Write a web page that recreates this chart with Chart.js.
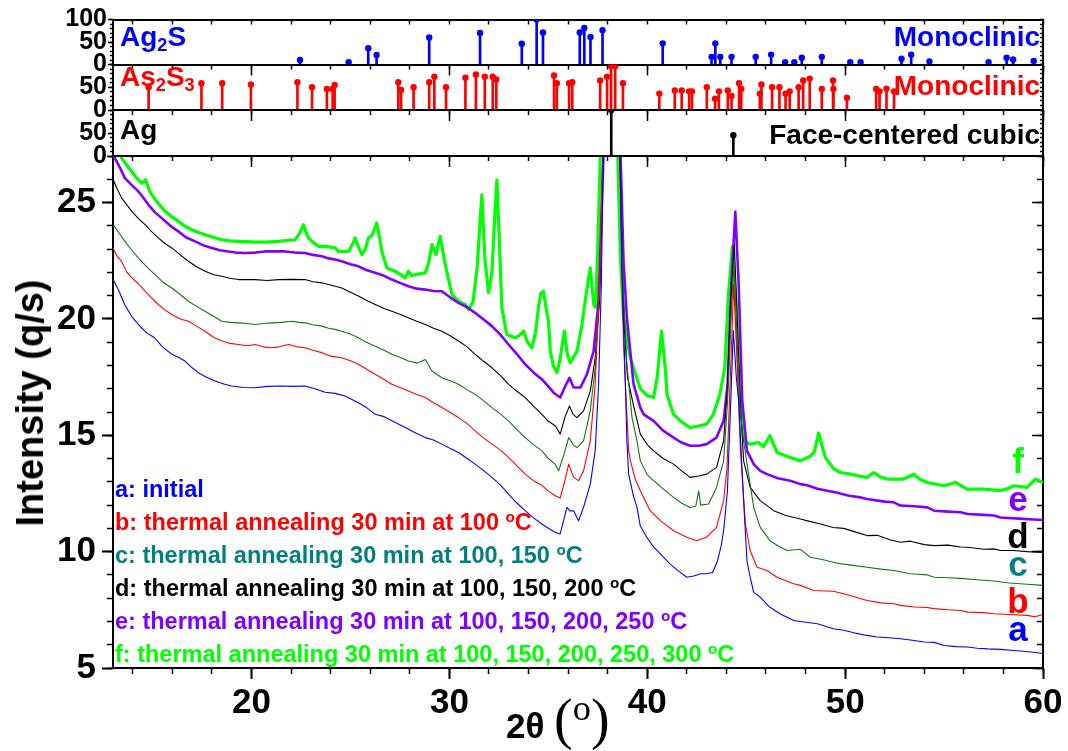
<!DOCTYPE html>
<html>
<head>
<meta charset="utf-8">
<script src="https://cdn.jsdelivr.net/npm/chart.js@4.4.1/dist/chart.umd.min.js"></script>
<style>
  body { margin: 0; background: #fff; overflow: hidden; }
  #wrap { position: relative; width: 1068px; height: 751px; font-family: 'Liberation Sans', Arial, sans-serif; font-weight: bold; }
  #wrap canvas { position: absolute; left: 0; top: 0; }
  .t { position: absolute; white-space: nowrap; line-height: 1; }
  .leg { left: 115px; font-size: 23.5px; }
  .let { left: 998px; width: 40px; text-align: center; font-size: 35px; }
  .ph { font-size: 28px; }
  .phr { right: 28px; font-size: 28px; }
  sup { font-size: 0.65em; vertical-align: baseline; position: relative; top: -0.5em; }
  sub { font-size: 0.65em; vertical-align: baseline; position: relative; top: 0.3em; }
  #ytitle { left: 30px; top: 403px; font-size: 38px; transform: translate(-50%, -50%) rotate(-90deg); }
  #xtitle { left: 506px; top: 691px; font-size: 35px; }
  #xtitle .serif { font-family: 'Liberation Serif', 'Times New Roman', serif; font-weight: normal; font-size: 56px; }
</style>
</head>
<body>
<div id="wrap">
  <canvas id="main" width="1068" height="751"></canvas>
  <canvas id="pAg2S" width="1068" height="751"></canvas>
  <canvas id="pAs2S3" width="1068" height="751"></canvas>
  <canvas id="pAg" width="1068" height="751"></canvas>

  <div class="t ph" style="left:120px;top:23px;color:#0000ff">Ag<sub>2</sub>S</div>
  <div class="t ph" style="left:120px;top:63px;color:#ff0000">As<sub>2</sub>S<sub>3</sub></div>
  <div class="t ph" style="left:120px;top:116px;color:#000">Ag</div>
  <div class="t phr" style="top:23px;color:#0000ff">Monoclinic</div>
  <div class="t phr" style="top:72px;color:#ff0000">Monoclinic</div>
  <div class="t phr" style="top:121px;color:#000">Face-centered cubic</div>

  <div class="t leg" style="top:478px;color:#0000ff">a: initial</div>
  <div class="t leg" style="top:511px;color:#ff0000">b: thermal annealing 30 min at 100 <sup>o</sup>C</div>
  <div class="t leg" style="top:544px;color:#008080">c: thermal annealing 30 min at 100, 150 <sup>o</sup>C</div>
  <div class="t leg" style="top:577px;color:#000">d: thermal annealing 30 min at 100, 150, 200 <sup>o</sup>C</div>
  <div class="t leg" style="top:610px;color:#8000ff">e: thermal annealing 30 min at 100, 150, 200, 250 <sup>o</sup>C</div>
  <div class="t leg" style="top:643px;color:#00ff00">f: thermal annealing 30 min at 100, 150, 200, 250, 300 <sup>o</sup>C</div>

  <div class="t let" style="top:443px;color:#00ff00">f</div>
  <div class="t let" style="top:481px;color:#8000ff">e</div>
  <div class="t let" style="top:518px;color:#000">d</div>
  <div class="t let" style="top:546px;color:#008080">c</div>
  <div class="t let" style="top:583px;color:#ff0000">b</div>
  <div class="t let" style="top:611px;color:#0000ff">a</div>

  <div class="t" id="ytitle">Intensity (q/s)</div>
  <div class="t" id="xtitle">2θ <span class="serif">(<sup>o</sup>)</span></div>
</div>

<script>
// --- axis ticks ---
const xMin = 13, xMax = 60;
const yMin = 5, yMax = 27;
const xMajorTicks = [20, 30, 40, 50, 60];
const xMinorTicks = [14, 16, 18, 20, 22, 24, 26, 28, 30, 32, 34, 36, 38, 40, 42, 44, 46, 48, 50, 52, 54, 56, 58, 60];
const yMajorTicks = [5, 10, 15, 20, 25];
const yMinorTicks = [5, 6, 7, 8, 9, 10, 11, 12, 13, 14, 15, 16, 17, 18, 19, 20, 21, 22, 23, 24, 25, 26, 27];
const refMajorTicks = [0, 50, 100];
const refMinorTicks = [0, 10, 20, 30, 40, 50, 60, 70, 80, 90, 100];

// --- reference patterns (2theta, relative intensity) ---
const ag2sPos = [22.45, 24.91, 25.9, 26.32, 28.98, 31.55, 33.66, 34.41, 34.73, 36.59, 36.82, 37.13, 37.74, 40.78, 43.25, 43.44, 43.69, 44.26, 45.48, 46.26, 46.97, 47.43, 47.81, 48.82, 50.26, 50.78, 52.85, 53.34, 54.26, 57.25, 58.16, 58.49, 59.53];
const ag2sInt = [10, 5, 36, 21, 60, 70, 46, 100, 71, 71, 81, 61, 76, 47, 17, 47, 17, 17, 17, 22, 5, 5, 15, 17, 5, 5, 13, 22, 7, 5, 15, 11, 8];
const as2s3Pos = [14.8, 17.47, 18.52, 19.97, 22.32, 23.06, 23.81, 24.1, 24.2, 27.42, 27.56, 28.19, 28.98, 29.24, 29.83, 30.81, 31.34, 31.79, 32.19, 32.37, 35.29, 35.43, 36.05, 36.21, 37.62, 37.97, 38.17, 38.38, 38.77, 40.61, 41.39, 41.74, 42.12, 42.26, 43.01, 43.43, 43.62, 44.07, 44.26, 44.64, 44.75, 45.69, 45.77, 46.31, 46.68, 46.99, 47.2, 47.65, 47.88, 48.21, 48.82, 49.39, 49.41, 50.09, 51.57, 51.74, 52.09, 52.47];
const as2s3Int = [50, 59, 59, 56, 61, 50, 46, 46, 55, 61, 44, 50, 61, 73, 50, 71, 78, 73, 73, 67, 76, 59, 59, 61, 65, 73, 96, 96, 59, 36, 43, 43, 41, 41, 50, 25, 41, 43, 31, 59, 46, 36, 56, 50, 50, 36, 41, 50, 65, 69, 46, 65, 46, 27, 46, 41, 47, 41];
const agPos = [38.18, 44.35];
const agInt = [100, 45];

// --- measured patterns [2theta, intensity] ---
const curveA = [[13.0, 21.7], [13.3, 21.2], [13.6, 20.6], [13.95, 20.1], [14.28, 19.76], [14.7, 19.4], [15.1, 19.19], [15.5, 18.8], [15.97, 18.48], [16.3, 18.35], [16.64, 18.19], [17.0, 17.9], [17.31, 17.69], [17.7, 17.5], [18.16, 17.33], [18.6, 17.2], [19.0, 17.12], [19.6, 17.05], [20.18, 17.04], [20.8, 17.1], [21.53, 17.12], [22.1, 17.1], [22.71, 17.12], [23.2, 17.0], [23.72, 16.85], [24.23, 16.8], [24.73, 16.69], [25.4, 16.4], [25.8, 16.2], [26.25, 15.9], [26.7, 15.8], [27.09, 15.62], [27.77, 15.33], [28.3, 15.1], [28.78, 14.9], [29.2, 14.8], [29.62, 14.62], [30.0, 14.45], [30.46, 14.26], [30.9, 14.0], [31.3, 13.76], [31.7, 13.5], [32.15, 13.19], [32.6, 12.85], [32.99, 12.47], [33.4, 12.1], [33.83, 11.76], [34.25, 11.45], [34.68, 11.19], [35.1, 10.95], [35.35, 10.83], [35.6, 10.76], [35.94, 11.9], [36.1, 11.75], [36.28, 11.76], [36.53, 11.33], [36.78, 11.9], [37.12, 12.9], [37.37, 14.33], [37.54, 17.19], [37.68, 21.5], [37.78, 27.3], [38.15, 45], [38.62, 27.3], [38.72, 22], [38.85, 18.5], [38.97, 14.76], [39.06, 13.33], [39.3, 12.4], [39.48, 11.9], [39.65, 11.1], [39.99, 10.6], [40.32, 10.2], [40.66, 9.9], [41.17, 9.45], [41.6, 9.15], [42.0, 8.9], [42.35, 8.95], [42.7, 9.05], [43.0, 9.05], [43.3, 9.1], [43.55, 9.6], [43.75, 10.3], [43.88, 11.04], [44.05, 12.6], [44.2, 16], [44.35, 19.5], [44.5, 17.5], [44.62, 16.47], [44.87, 12.19], [45.04, 9.6], [45.2, 8.9], [45.38, 8.25], [45.7, 8.05], [46.2, 7.61], [46.7, 7.33], [47.4, 7.04], [47.74, 7.0], [48.6, 6.9], [49.4, 6.69], [49.93, 6.62], [50.5, 6.5], [51.1, 6.4], [51.62, 6.33], [52.2, 6.3], [52.8, 6.26], [53.3, 6.2], [54.0, 6.12], [54.5, 6.1], [55.0, 5.97], [55.6, 5.92], [56.2, 5.9], [56.67, 5.85], [57.2, 5.82], [57.85, 5.8], [58.36, 5.76], [59.0, 5.72], [59.5, 5.68], [60.0, 5.62]];

const curveB = [[13.0, 23.05], [13.2, 22.7], [13.44, 22.47], [13.7, 22.0], [13.95, 21.76], [14.3, 21.5], [14.62, 21.19], [14.95, 20.9], [15.29, 20.62], [15.6, 20.4], [15.97, 20.19], [16.4, 20.0], [16.81, 19.9], [17.2, 19.7], [17.65, 19.47], [18.1, 19.2], [18.5, 19.05], [18.9, 18.95], [19.34, 18.9], [19.8, 18.85], [20.18, 18.9], [20.6, 18.8], [21.03, 18.76], [21.4, 18.8], [21.87, 18.9], [22.3, 18.8], [22.71, 18.76], [23.1, 18.65], [23.55, 18.55], [24.0, 18.4], [24.56, 18.33], [25.0, 18.2], [25.4, 18.05], [25.8, 17.85], [26.25, 17.62], [26.7, 17.4], [27.09, 17.19], [27.5, 17.05], [27.93, 16.9], [28.35, 16.75], [28.78, 16.62], [29.2, 16.4], [29.62, 16.19], [30.0, 16.0], [30.46, 15.76], [30.9, 15.5], [31.3, 15.19], [31.7, 14.9], [32.15, 14.62], [32.6, 14.35], [32.99, 14.05], [33.4, 13.7], [33.83, 13.33], [34.25, 13.05], [34.68, 12.85], [35.0, 12.6], [35.35, 12.4], [35.6, 12.3], [35.85, 13.1], [36.03, 13.76], [36.28, 13.19], [36.53, 13.05], [36.78, 13.47], [37.12, 14.76], [37.37, 17.19], [37.59, 21.48], [37.76, 27.3], [38.15, 50], [38.6, 27.3], [38.72, 22], [38.8, 18.9], [39.06, 14.33], [39.15, 13.9], [39.4, 13.1], [39.65, 12.62], [40.15, 11.76], [40.66, 11.33], [41.33, 10.9], [42.0, 10.62], [42.5, 10.47], [43.0, 10.62], [43.5, 11.04], [43.86, 12.19], [44.03, 13.6], [44.2, 17.5], [44.37, 21.5], [44.55, 18], [44.7, 14.5], [44.79, 13.33], [44.96, 11.19], [45.2, 10.05], [45.55, 9.33], [46.05, 9.19], [46.56, 8.9], [47.4, 8.62], [47.74, 8.55], [48.41, 8.33], [49.4, 8.3], [49.93, 8.19], [50.5, 8.05], [51.11, 7.9], [51.8, 7.8], [52.46, 7.76], [52.8, 7.69], [53.5, 7.62], [54.15, 7.6], [54.5, 7.55], [55.2, 7.5], [55.83, 7.47], [56.2, 7.4], [57.0, 7.38], [57.52, 7.33], [58.3, 7.3], [59.2, 7.26], [59.6, 7.2], [60.0, 7.3]];

const curveC = [[13.0, 24.05], [13.3, 23.7], [13.6, 23.33], [13.95, 22.95], [14.28, 22.62], [14.7, 22.25], [15.12, 21.9], [15.5, 21.6], [15.97, 21.33], [16.4, 21.05], [16.81, 20.76], [17.2, 20.55], [17.65, 20.33], [18.1, 20.1], [18.5, 19.9], [18.9, 19.85], [19.34, 19.83], [19.8, 19.8], [20.18, 19.76], [20.6, 19.8], [21.03, 19.83], [21.5, 19.85], [22.04, 19.9], [22.4, 19.85], [22.71, 19.83], [23.1, 19.75], [23.55, 19.69], [23.9, 19.6], [24.23, 19.55], [24.56, 19.47], [25.0, 19.35], [25.4, 19.19], [25.8, 19.0], [26.25, 18.83], [26.7, 18.65], [27.09, 18.48], [27.5, 18.35], [27.93, 18.19], [28.4, 18.1], [28.78, 18.26], [29.12, 17.76], [29.62, 17.47], [30.0, 17.35], [30.46, 17.19], [30.9, 16.95], [31.3, 16.76], [31.7, 16.5], [32.15, 16.19], [32.6, 15.9], [32.99, 15.62], [33.4, 15.25], [33.83, 14.9], [34.25, 14.6], [34.68, 14.33], [35.0, 14.0], [35.35, 13.76], [35.52, 13.47], [35.8, 14.2], [36.03, 14.9], [36.25, 14.6], [36.45, 14.47], [36.78, 14.76], [37.12, 16.05], [37.37, 17.9], [37.59, 21.5], [37.76, 27.3], [38.15, 50], [38.6, 27.3], [38.75, 22], [38.97, 18.05], [39.23, 15.76], [39.48, 14.76], [39.65, 13.9], [40.0, 13.3], [40.32, 13.05], [40.8, 12.7], [41.33, 12.33], [41.7, 12.1], [42.16, 11.9], [42.45, 11.95], [42.6, 12.6], [42.7, 12.0], [43.1, 12.05], [43.5, 12.76], [43.86, 13.9], [44.06, 16.47], [44.2, 19.5], [44.38, 22.5], [44.55, 19], [44.7, 16], [44.87, 14.76], [45.12, 13.33], [45.38, 11.9], [45.71, 11.04], [46.2, 10.47], [46.6, 10.25], [47.07, 10.05], [47.74, 10.1], [48.24, 9.76], [48.9, 9.65], [49.6, 9.5], [50.3, 9.42], [51.11, 9.33], [51.8, 9.25], [52.46, 9.19], [53.3, 9.05], [54.15, 9.0], [54.5, 8.9], [55.2, 8.88], [55.83, 8.85], [56.5, 8.8], [57.52, 8.74], [58.3, 8.65], [59.2, 8.6], [60.0, 8.55]];

const curveD = [[13.0, 26.0], [13.2, 25.6], [13.44, 25.19], [13.7, 24.9], [13.95, 24.62], [14.3, 24.3], [14.62, 24.05], [14.95, 23.75], [15.29, 23.48], [15.6, 23.25], [15.97, 23.05], [16.4, 22.75], [16.81, 22.48], [17.2, 22.25], [17.65, 22.05], [18.1, 21.9], [18.5, 21.83], [18.9, 21.75], [19.34, 21.69], [20.18, 21.69], [20.8, 21.65], [21.36, 21.69], [22.0, 21.7], [22.71, 21.69], [23.1, 21.6], [23.55, 21.55], [24.23, 21.4], [24.56, 21.33], [25.0, 21.15], [25.4, 20.98], [25.8, 20.8], [26.25, 20.62], [26.7, 20.45], [27.09, 20.33], [27.5, 20.2], [27.93, 20.05], [28.35, 19.9], [28.78, 19.76], [29.2, 19.6], [29.62, 19.47], [30.0, 19.3], [30.46, 19.05], [30.9, 18.8], [31.3, 18.48], [31.7, 18.2], [32.15, 17.9], [32.6, 17.55], [32.99, 17.19], [33.4, 16.9], [33.83, 16.62], [34.25, 16.25], [34.68, 15.9], [35.0, 15.6], [35.35, 15.41], [35.6, 15.05], [35.85, 15.8], [36.07, 16.26], [36.25, 15.9], [36.45, 15.76], [36.78, 16.05], [37.12, 16.9], [37.37, 18.33], [37.59, 20.76], [37.73, 25.76], [37.78, 27.3], [38.15, 55], [38.62, 27.3], [38.75, 22], [38.85, 19.5], [39.0, 17.5], [39.3, 16.3], [39.65, 15.05], [40.0, 14.6], [40.32, 14.33], [40.8, 14.0], [41.33, 13.76], [41.7, 13.5], [42.16, 13.19], [42.6, 13.25], [43.0, 13.33], [43.5, 13.62], [43.86, 14.76], [44.06, 17.19], [44.2, 20.5], [44.4, 23.2], [44.55, 20], [44.7, 16.5], [44.87, 13.9], [45.2, 12.76], [45.71, 12.19], [46.39, 11.76], [47.0, 11.55], [47.74, 11.4], [48.2, 11.3], [48.75, 11.19], [49.4, 11.04], [49.93, 11.0], [50.5, 10.85], [51.1, 10.69], [51.62, 10.7], [52.3, 10.5], [52.8, 10.4], [53.3, 10.45], [54.0, 10.3], [54.5, 10.26], [55.2, 10.28], [55.83, 10.2], [56.2, 10.19], [57.0, 10.1], [57.52, 10.12], [57.85, 10.05], [58.5, 10.05], [59.2, 10.0], [60.0, 9.97]];

const curveE = [[13.0, 27.2], [13.1, 26.9], [13.35, 26.5], [13.6, 26.05], [13.95, 25.75], [14.28, 25.48], [14.5, 25.25], [14.79, 24.9], [15.1, 24.6], [15.46, 24.33], [15.9, 24.0], [16.3, 23.76], [16.7, 23.5], [17.15, 23.33], [17.6, 23.15], [17.99, 23.05], [18.4, 22.95], [18.83, 22.9], [19.2, 22.85], [19.67, 22.83], [20.2, 22.85], [20.69, 22.9], [21.2, 22.9], [21.7, 22.9], [22.2, 22.85], [22.71, 22.83], [23.1, 22.75], [23.55, 22.69], [23.9, 22.6], [24.23, 22.55], [24.56, 22.48], [25.0, 22.35], [25.4, 22.26], [25.8, 22.1], [26.25, 21.98], [26.7, 21.85], [27.09, 21.69], [27.5, 21.55], [27.93, 21.4], [28.35, 21.3], [28.78, 21.26], [29.2, 21.2], [29.62, 21.19], [30.0, 20.95], [30.46, 20.69], [30.9, 20.5], [31.3, 20.26], [31.7, 20.0], [32.15, 19.69], [32.6, 19.3], [32.99, 18.9], [33.4, 18.5], [33.83, 18.05], [34.25, 17.7], [34.68, 17.4], [35.0, 17.1], [35.27, 16.83], [35.6, 16.62], [35.85, 17.1], [36.07, 17.47], [36.28, 17.05], [36.62, 17.05], [36.95, 17.62], [37.29, 18.62], [37.54, 20.76], [37.71, 25.05], [37.8, 27.3], [38.2, 60], [38.64, 27.3], [38.8, 22.5], [38.97, 20.05], [39.31, 17.19], [39.65, 16.19], [39.82, 15.9], [40.32, 15.62], [40.8, 15.2], [41.33, 14.9], [41.7, 14.7], [42.16, 14.55], [42.6, 14.55], [43.0, 14.62], [43.5, 14.9], [43.86, 15.62], [44.06, 17.19], [44.25, 21.5], [44.45, 24.6], [44.62, 21.5], [44.8, 16.5], [45.04, 14.33], [45.38, 13.76], [45.71, 13.47], [46.05, 13.33], [46.6, 13.15], [47.23, 13.05], [47.74, 12.9], [48.08, 12.85], [48.6, 12.7], [49.09, 12.62], [49.5, 12.55], [50.2, 12.4], [50.78, 12.33], [51.1, 12.26], [52.0, 12.15], [52.46, 12.12], [52.8, 11.98], [53.5, 11.95], [54.15, 11.9], [54.5, 11.76], [55.2, 11.72], [55.83, 11.69], [56.2, 11.62], [57.0, 11.58], [57.52, 11.55], [57.85, 11.47], [58.8, 11.42], [59.5, 11.38], [60.0, 11.36]];

const curveF = [[13.0, 28.5], [13.3, 27.4], [13.44, 26.9], [13.7, 26.6], [13.95, 26.33], [14.2, 26.05], [14.45, 25.83], [14.65, 25.98], [14.8, 25.6], [14.96, 25.33], [15.3, 24.95], [15.63, 24.62], [16.0, 24.38], [16.3, 24.19], [16.6, 24.0], [16.98, 23.83], [17.3, 23.72], [17.65, 23.62], [18.1, 23.5], [18.5, 23.4], [18.9, 23.35], [19.34, 23.33], [20.18, 23.3], [20.8, 23.3], [21.36, 23.33], [21.9, 23.38], [22.2, 23.4], [22.45, 23.7], [22.62, 24.05], [22.75, 23.75], [22.88, 23.48], [23.1, 23.3], [23.38, 23.12], [23.72, 23.12], [24.23, 23.05], [24.39, 22.9], [24.9, 22.9], [25.1, 23.2], [25.24, 23.48], [25.4, 23.1], [25.58, 22.76], [25.75, 23.0], [25.91, 23.48], [26.1, 23.6], [26.33, 24.12], [26.45, 23.6], [26.59, 22.9], [26.84, 22.19], [27.26, 22.05], [27.77, 21.76], [27.93, 22.05], [28.1, 21.85], [28.27, 21.9], [28.78, 21.98], [28.95, 22.4], [29.12, 23.19], [29.32, 22.76], [29.54, 23.55], [29.79, 22.33], [30.13, 21.05], [30.46, 20.76], [30.8, 20.62], [30.97, 20.4], [31.2, 20.75], [31.4, 22.2], [31.64, 25.33], [31.8, 22.5], [31.98, 21.13], [32.15, 22.0], [32.3, 24.5], [32.4, 25.98], [32.52, 23.5], [32.65, 20.48], [32.9, 19.33], [33.33, 19.19], [33.55, 19.3], [33.75, 19.48], [33.95, 19.0], [34.17, 18.76], [34.35, 19.4], [34.5, 20.48], [34.62, 21.1], [34.76, 21.19], [34.9, 20.4], [35.01, 19.9], [35.1, 18.62], [35.25, 18.0], [35.44, 17.69], [35.6, 18.3], [35.81, 19.48], [35.95, 18.5], [36.11, 18.12], [36.3, 18.4], [36.45, 18.62], [36.7, 19.76], [36.9, 21.0], [37.12, 22.19], [37.3, 20.6], [37.4, 20.5], [37.54, 24.33], [37.64, 27.3], [38.1, 60], [38.5, 27.3], [38.65, 22.5], [38.8, 20.05], [39.14, 18.33], [39.65, 17.0], [40.0, 16.7], [40.32, 16.62], [40.5, 17.47], [40.72, 19.48], [40.91, 17.9], [41.0, 16.76], [41.17, 16.3], [41.33, 15.9], [41.7, 15.6], [42.16, 15.33], [42.6, 15.4], [43.0, 15.48], [43.34, 15.9], [43.67, 16.76], [43.92, 17.9], [44.1, 21.0], [44.3, 23.1], [44.5, 20.5], [44.65, 17], [44.87, 14.76], [45.2, 14.62], [45.62, 14.69], [45.87, 14.5], [46.2, 14.98], [46.56, 14.26], [47.23, 14.05], [47.74, 13.9], [48.24, 14.1], [48.45, 14.3], [48.66, 15.1], [48.85, 14.5], [49.0, 14.05], [49.43, 13.55], [49.77, 13.4], [50.27, 13.33], [50.7, 13.25], [51.11, 13.19], [51.45, 13.4], [51.8, 13.2], [52.12, 13.12], [52.96, 13.12], [53.47, 13.33], [53.8, 13.1], [54.15, 12.97], [54.99, 12.83], [55.58, 12.97], [56.17, 12.69], [57.01, 12.69], [57.85, 12.62], [58.2, 12.7], [58.53, 12.83], [59.2, 12.76], [59.62, 13.12], [60.0, 12.97]];

// --- layout (pixel frame of the plot boxes) ---
const W = 1068, H = 751;
const PLOT_LEFT = 113, PLOT_RIGHT = 1043;
const MAIN_TOP = 156, MAIN_BOTTOM = 668;
const FONT = "'Liberation Sans', Arial, sans-serif";

function setTicks(list) {
    return scale => { scale.ticks = list.map(v => ({ value: v })); };
}

// axis that only draws tick marks (+ optional border line), takes no room
function markAxis(axis, position, min, max, list, len, border) {
    return {
        type: 'linear', axis: axis, position: position, min: min, max: max, offset: false,
        afterBuildTicks: setTicks(list),
        afterFit: s => { if (axis === 'x') s.height = 0; else s.width = 0; },
        ticks: { display: false },
        grid: { display: true, offset: false, drawOnChartArea: false, drawTicks: true, tickLength: len, tickColor: '#000', tickWidth: 1.5 },
        border: { display: border, color: '#000', width: 2 }
    };
}

// --- main plot ---
const curves = [
    { data: curveA, color: '#0000ff', width: 1.1 },
    { data: curveB, color: '#ff0000', width: 1.1 },
    { data: curveC, color: '#117711', width: 1.1 },
    { data: curveD, color: '#000000', width: 1.1 },
    { data: curveE, color: '#8000ff', width: 2.6 },
    { data: curveF, color: '#00ff00', width: 3.2 }
];

new Chart(document.getElementById('main'), {
    type: 'line',
    data: {
        datasets: curves.map(c => ({
            data: c.data, xAxisID: 'x', yAxisID: 'y',
            borderColor: c.color, borderWidth: c.width,
            pointRadius: 0, tension: 0, fill: false, borderJoinStyle: 'round'
        }))
    },
    options: {
        responsive: false, animation: false, devicePixelRatio: 1,
        layout: { padding: { left: 0, top: MAIN_TOP, right: W - PLOT_RIGHT, bottom: 0 } },
        plugins: { legend: { display: false }, tooltip: { enabled: false } },
        scales: {
            x: {
                type: 'linear', axis: 'x', position: 'bottom', min: xMin, max: xMax, weight: 1,
                afterBuildTicks: setTicks(xMajorTicks),
                afterFit: s => { s.height = H - MAIN_BOTTOM; },
                ticks: { color: '#000', font: { family: FONT, size: 35, weight: 'bold' }, padding: 3, maxRotation: 0, autoSkip: false },
                grid: { drawOnChartArea: false, tickLength: 11, tickColor: '#000', tickWidth: 2 },
                border: { color: '#000', width: 2 }
            },
            xMinor: markAxis('x', 'bottom', xMin, xMax, xMinorTicks, 6, false),
            xTop: markAxis('x', 'top', xMin, xMax, [], 0, true),
            y: {
                type: 'linear', axis: 'y', position: 'left', min: yMin, max: yMax, weight: 1,
                afterBuildTicks: setTicks(yMajorTicks),
                afterFit: s => { s.width = PLOT_LEFT; },
                ticks: { color: '#000', font: { family: FONT, size: 35, weight: 'bold' }, padding: 6, autoSkip: false },
                grid: { drawOnChartArea: false, tickLength: 11, tickColor: '#000', tickWidth: 2 },
                border: { color: '#000', width: 2 }
            },
            yMinor: markAxis('y', 'left', yMin, yMax, yMinorTicks, 6, false),
            yRight: markAxis('y', 'right', yMin, yMax, yMinorTicks, -6, true),
            yRightMajor: markAxis('y', 'right', yMin, yMax, yMajorTicks, -11, false)
        }
    }
});

// --- reference stick panels ---
function makePanel(id, top, bottom, pos, ints, color, labelTicks, topTicks) {
    const pts = pos.map((x, i) => ({ x: x, y: ints[i] }));
    new Chart(document.getElementById(id), {
        type: 'bar',
        data: {
            datasets: [
                { type: 'bar', data: pts, xAxisID: 'x', yAxisID: 'y', backgroundColor: color, borderWidth: 0, barThickness: 2 },
                { type: 'line', data: pts, xAxisID: 'x', yAxisID: 'y', showLine: false, pointRadius: 3.2, pointBackgroundColor: color, pointBorderWidth: 0 }
            ]
        },
        options: {
            responsive: false, animation: false, devicePixelRatio: 1,
            layout: { padding: { left: 0, top: top, right: W - PLOT_RIGHT, bottom: H - bottom } },
            plugins: { legend: { display: false }, tooltip: { enabled: false } },
            scales: {
                x: markAxis('x', 'bottom', xMin, xMax, xMinorTicks, 5, true),
                xMajor: markAxis('x', 'bottom', xMin, xMax, xMajorTicks, 11, false),
                xTop: markAxis('x', 'top', xMin, xMax, topTicks, -5, true),
                y: {
                    type: 'linear', axis: 'y', position: 'left', min: 0, max: 100, weight: 1,
                    afterBuildTicks: setTicks(labelTicks),
                    afterFit: s => { s.width = PLOT_LEFT; },
                    ticks: { color: '#000', font: { family: FONT, size: 25, weight: 'bold' }, padding: 1, autoSkip: false },
                    grid: { drawOnChartArea: false, tickLength: 5, tickColor: '#000', tickWidth: 1.5 },
                    border: { color: '#000', width: 2 }
                },
                yMinor: markAxis('y', 'left', 0, 100, refMinorTicks, 3, false),
                yRight: markAxis('y', 'right', 0, 100, refMinorTicks, -3, true)
            }
        }
    });
}

makePanel('pAg2S', 19.5, 64.5, ag2sPos, ag2sInt, '#0000ff', refMajorTicks, xMinorTicks);
makePanel('pAs2S3', 64.5, 110, as2s3Pos, as2s3Int, '#ff0000', [0, 50], []);
makePanel('pAg', 110, 156, agPos, agInt, '#000000', [0, 50], []);
</script>
</body>
</html>
